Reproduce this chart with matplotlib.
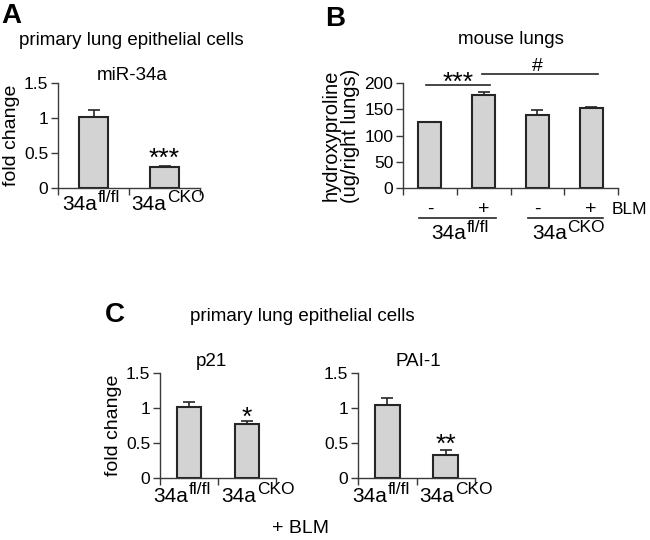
import matplotlib
matplotlib.use("Agg")
import matplotlib.pyplot as plt
from matplotlib.transforms import blended_transform_factory, ScaledTranslation
from matplotlib.lines import Line2D

plt.rcParams['font.family'] = ['Liberation Sans', 'DejaVu Sans']

# ---------------- data ----------------
genotype_base = "34a"
genotype_sup = ["fl/fl", "CKO"]

mir34a_vals = [1.01, 0.30]
mir34a_err = [0.10, 0.02]
mir34a_sig = ["", "***"]

hyp_vals = [125, 178, 140, 153]
hyp_err = [1.5, 4, 9, 2]
hyp_blm = ["-", "+", "-", "+"]

p21_vals = [1.015, 0.765]
p21_err = [0.065, 0.05]
p21_sig = ["", "*"]

pai1_vals = [1.035, 0.33]
pai1_err = [0.10, 0.07]
pai1_sig = ["", "**"]

fold_ticks = [0, 0.5, 1, 1.5]
fold_ticklabels = ["0", "0.5", "1", "1.5"]
hyp_ticks = [0, 50, 100, 150, 200]

# ---------------- style ----------------
W, H = 650, 540
DPI = 100
PT = DPI / 72.0
BAR_FC = "#d3d3d3"
EDGE = "#262626"
SPINE = "#3a3a3a"
FS_TICK = 12.5
FS_LAB = 14
FS_BASE = 15
FS_SUP = 12.5
FS_STAR = 19

fig = plt.figure(figsize=(W / DPI, H / DPI), dpi=DPI)


def rect(l, r, b, t):
    return [l / W, 1 - b / H, (r - l) / W, (b - t) / H]


def ftext(x, y, s, **kw):
    fig.text(x / W, 1 - y / H, s, **kw)


def style_ax(ax, n, ylim, yticks, yticklabels=None):
    ax.set_xlim(-0.5, n - 0.5)
    ax.set_ylim(*ylim)
    for sp in ["top", "right"]:
        ax.spines[sp].set_visible(False)
    for sp in ["left", "bottom"]:
        ax.spines[sp].set_color(SPINE)
        ax.spines[sp].set_linewidth(1.0)
    ax.set_xticks([i - 0.5 for i in range(n + 1)])
    ax.set_xticklabels([])
    ax.set_yticks(yticks)
    if yticklabels is not None:
        ax.set_yticklabels(yticklabels)
    ax.tick_params(axis="both", direction="out", length=5, width=1.0,
                   color=SPINE, labelsize=FS_TICK, pad=2)
    ax.patch.set_alpha(0)


def bars(ax, vals, errs, width=0.42):
    xs = list(range(len(vals)))
    ax.bar(xs, vals, width=width, color=BAR_FC, edgecolor=EDGE,
           linewidth=1.5, zorder=2)
    ax.errorbar(xs, vals, yerr=[[0] * len(vals), errs], fmt="none",
                ecolor=EDGE, elinewidth=1.2, capsize=4.5, capthick=1.2,
                zorder=3)
    return xs


sup_labels = []


def sup_label(ax, x, yfrac, base, sup, fs=FS_BASE, fs_sup=FS_SUP,
              rise_px=8.5, shift_px=0.0):
    trans = blended_transform_factory(ax.transData, ax.transAxes)
    t1 = ax.text(x, yfrac, base, transform=trans, ha="left", va="baseline",
                 fontsize=fs, clip_on=False)
    t2 = ax.text(x, yfrac, sup, transform=trans, ha="left", va="baseline",
                 fontsize=fs_sup, clip_on=False)
    sup_labels.append((t1, t2, trans, rise_px, shift_px))


def stars(ax, xs, vals, errs, sigs, off_px):
    for x, v, e, s in zip(xs, vals, errs, sigs):
        if s:
            ax.annotate(s, xy=(x, v + e), xytext=(0, off_px / PT),
                        textcoords="offset points", ha="center",
                        va="baseline", fontsize=FS_STAR, zorder=4,
                        annotation_clip=False)


# ---------------- Panel A ----------------
axA = fig.add_axes(rect(58, 200, 188, 83))
xs = bars(axA, mir34a_vals, mir34a_err)
style_ax(axA, 2, (0, 1.5), fold_ticks, fold_ticklabels)
stars(axA, xs, mir34a_vals, mir34a_err, mir34a_sig, 0)
for x, s, sh in zip(xs, genotype_sup, [-2.5, 3.5]):
    sup_label(axA, x, -0.21, genotype_base, s, shift_px=sh)
axA.set_ylabel("fold change", fontsize=FS_LAB, labelpad=3)
ftext(1, 23, "A", fontsize=20, fontweight="bold", ha="left", va="baseline")
ftext(131, 45, "primary lung epithelial cells", fontsize=13.5,
      ha="center", va="baseline")
ftext(132, 80, "miR-34a", fontsize=13.5, ha="center", va="baseline")

# ---------------- Panel B ----------------
axB = fig.add_axes(rect(403, 618, 188, 83))
xs = bars(axB, hyp_vals, hyp_err, width=0.43)
style_ax(axB, 4, (0, 200), hyp_ticks)
axB.set_ylabel("hydroxyproline\n(ug/right lungs)", fontsize=14.5,
               labelpad=3, linespacing=1.0)
# significance brackets
axB.plot([-0.08, 1.12], [197, 197], color=EDGE, lw=1.2, clip_on=False)
axB.annotate("***", xy=(0.52, 197), xytext=(0, -5 / PT),
             textcoords="offset points", ha="center", va="baseline",
             fontsize=FS_STAR, annotation_clip=False)
axB.plot([0.97, 3.13], [217, 217], color=EDGE, lw=1.2, clip_on=False)
axB.annotate("#", xy=(2.0, 217), xytext=(0, 3 / PT),
             textcoords="offset points", ha="center", va="baseline",
             fontsize=14, annotation_clip=False)
transB = blended_transform_factory(axB.transData, axB.transAxes)
for x, s in zip(xs, hyp_blm):
    axB.text(x, -0.2, s, transform=transB, ha="center", va="center",
             fontsize=FS_LAB, clip_on=False)
axB.text(3.39, -0.2, "BLM", transform=transB, ha="left", va="center",
         fontsize=12.5, clip_on=False)
for (x0, x1) in [(-0.2, 1.23), (1.83, 3.22)]:
    axB.add_line(Line2D([x0, x1], [-0.286, -0.286], transform=transB,
                        color=EDGE, lw=1.2, clip_on=False))
sup_label(axB, 0.57, -0.486, genotype_base, genotype_sup[0], rise_px=7.5)
sup_label(axB, 2.58, -0.486, genotype_base, genotype_sup[1], rise_px=7.5)
ftext(325, 26, "B", fontsize=20, fontweight="bold", ha="left", va="baseline")
ftext(511, 44, "mouse lungs", fontsize=13.5, ha="center", va="baseline")

# ---------------- Panel C ----------------
axC1 = fig.add_axes(rect(160, 276, 478, 372.7))
xs = bars(axC1, p21_vals, p21_err)
style_ax(axC1, 2, (0, 1.5), fold_ticks, fold_ticklabels)
stars(axC1, xs, p21_vals, p21_err, p21_sig, -4)
for x, s, sh in zip(xs, genotype_sup, [-7, 11]):
    sup_label(axC1, x, -0.23, genotype_base, s, shift_px=sh)
axC1.set_ylabel("fold change", fontsize=FS_LAB, labelpad=3)

axC2 = fig.add_axes(rect(358, 475, 478, 372.7))
xs = bars(axC2, pai1_vals, pai1_err)
style_ax(axC2, 2, (0, 1.5), fold_ticks, fold_ticklabels)
stars(axC2, xs, pai1_vals, pai1_err, pai1_sig, -1.5)
for x, s, sh in zip(xs, genotype_sup, [-6, 10]):
    sup_label(axC2, x, -0.23, genotype_base, s, shift_px=sh)

ftext(105, 322, "C", fontsize=20, fontweight="bold", ha="left", va="baseline")
ftext(302, 321, "primary lung epithelial cells", fontsize=13.5,
      ha="center", va="baseline")
ftext(211, 366, "p21", fontsize=13.5, ha="center", va="baseline")
ftext(418, 366, "PAI-1", fontsize=13.5, ha="center", va="baseline")
ftext(300, 533, "+ BLM", fontsize=FS_LAB, ha="center", va="baseline")

# center the superscripted category labels
fig.canvas.draw()
r = fig.canvas.get_renderer()
for t1, t2, trans, rise, shift in sup_labels:
    w1 = t1.get_window_extent(r).width
    w2 = t2.get_window_extent(r).width
    gap = 0.5
    w = w1 + w2 + gap
    x0 = -w / 2 + shift
    t1.set_transform(trans + ScaledTranslation(x0 / DPI, 0,
                                               fig.dpi_scale_trans))
    t2.set_transform(trans + ScaledTranslation((x0 + w1 + gap) / DPI,
                                               rise / DPI,
                                               fig.dpi_scale_trans))

fig.savefig("out.png", dpi=DPI)
